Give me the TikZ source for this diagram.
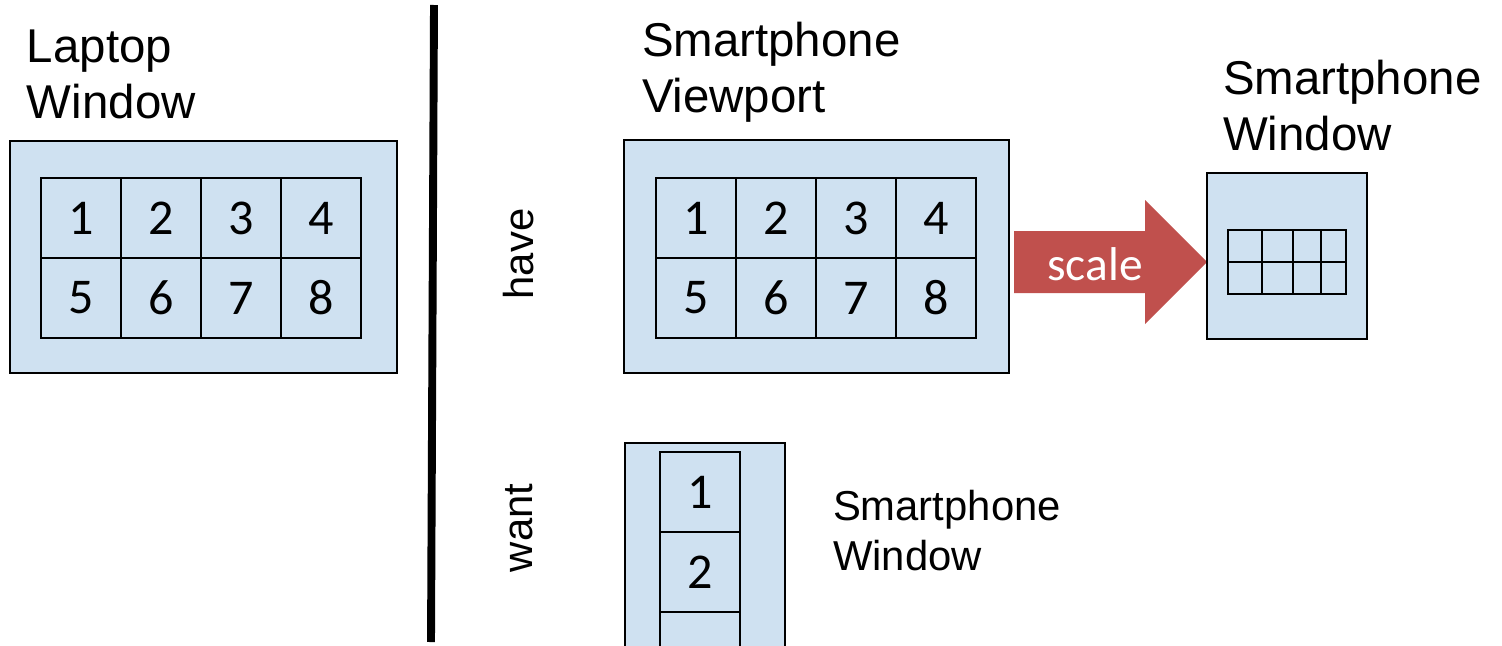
\documentclass[tikz,border=0pt]{standalone}
\usepackage{fontspec}
\setmainfont{Liberation Sans}
\newfontfamily\calibri{Carlito}
\definecolor{paneblue}{RGB}{207,225,241}
\definecolor{scalered}{RGB}{192,80,77}

\begin{document}
\begin{tikzpicture}[x=0.02cm,y=-0.02cm]
\tikzset{ inner sep=0pt, outer sep=0pt,
  pane/.style={draw, fill=paneblue, line width=1.1pt},
  cell/.style={draw, line width=1pt, minimum width=1.6cm, minimum height=1.6cm, font=\calibri\fontsize{28.5}{34}\selectfont},
  title/.style={align=left, anchor=base west, font=\fontsize{27}{31.7}\selectfont},
  subtitle/.style={align=left, anchor=base west, font=\fontsize{23.8}{28.3}\selectfont},
  side/.style={rotate=90, font=\fontsize{23.8}{28.3}\selectfont},
}

\clip (0,0) rectangle (1502,646);

%%% Titulos

\node [title] (tlap)  at (27,118)  {Laptop\\Window};
\node [title] (tview) at (642,112) {Smartphone\\Viewport};
\node [title] (twin)  at (1223,150) {Smartphone\\Window};
\node [subtitle] (twant) at (833,570) {Smartphone\\Window};
\node [side] (have) at (519,254) {have};
\node [side] (want) at (519,528) {want};

% divisor
\draw [line width=4.5pt] (434,5) -- (431,642);

%%% Blocos

% Laptop
\node [pane, minimum width=7.74cm, minimum height=4.64cm] (laptop) at (203.5,257) { };
\node [cell] (lap1) at ( 81,218) {1};
\node [cell] (lap2) at (161,218) {2};
\node [cell] (lap3) at (241,218) {3};
\node [cell] (lap4) at (321,218) {4};
\node [cell] (lap5) at ( 81,298) {5};
\node [cell] (lap6) at (161,298) {6};
\node [cell] (lap7) at (241,298) {7};
\node [cell] (lap8) at (321,298) {8};

% Viewport
\node [pane, minimum width=7.7cm, minimum height=4.66cm] (viewport) at (816.5,256.5) { };
\node [cell] (vp1) at (696,218) {1};
\node [cell] (vp2) at (776,218) {2};
\node [cell] (vp3) at (856,218) {3};
\node [cell] (vp4) at (936,218) {4};
\node [cell] (vp5) at (696,298) {5};
\node [cell] (vp6) at (776,298) {6};
\node [cell] (vp7) at (856,298) {7};
\node [cell] (vp8) at (936,298) {8};

% scale
\fill [scalered] (1014,231) -- (1145,231) -- (1145,200) -- (1207,262) -- (1145,324) -- (1145,293) -- (1014,293) -- cycle;
\node [text=white, font=\calibri\fontsize{27}{32}\selectfont] (scl) at (1095,264) {scale};

% janela escalada
\node [pane, minimum width=3.2cm, minimum height=3.32cm] (phone) at (1287,256) { };
\draw [line width=1pt] (1228,230) rectangle (1346,294);
\draw [line width=1pt] (1228,262) -- (1346,262);
\draw [line width=1pt] (1262,230) -- (1262,294);
\draw [line width=1pt] (1293,230) -- (1293,294);
\draw [line width=1pt] (1321,230) -- (1321,294);

% janela desejada
\node [pane, minimum width=3.2cm, minimum height=5.14cm] (wanted) at (705,571.5) { };
\node [cell] (want1) at (700,492) {1};
\node [cell] (want2) at (700,572) {2};
\node [cell] (want3) at (700,652) { };

\end{tikzpicture}
\end{document}
